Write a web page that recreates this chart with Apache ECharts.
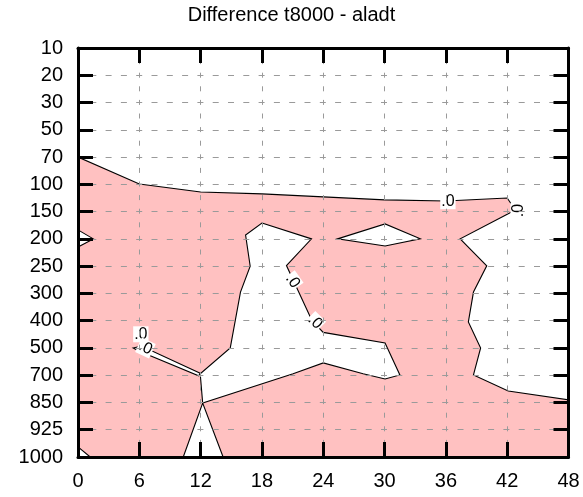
<!DOCTYPE html>
<html>
<head>
<meta charset="utf-8">
<script src="https://cdn.jsdelivr.net/npm/echarts@6/dist/echarts.min.js"></script>
<style>html,body{margin:0;padding:0;background:#fff}#c{width:583px;height:497px}</style>
</head>
<body>
<div id="c"></div>
<script>
// ---- data (x = forecast hour, y = pressure-level index) ----
const levels = ['10','20','30','50','70','100','150','200','250','300','400','500','700','850','925','1000'];
const hourTicks = [0, 6, 12, 18, 24, 30, 36, 42, 48];

// negative-difference area (whole domain, white areas drawn on top)
const negativeArea = [[0,0],[48,0],[48,15],[0,15]];
// zero-contour enclosed positive areas
const upperRightArea = [[0,0],[48,0],[48,12.9],[42.1,12.58],[38.7,11.99],[39.4,11.0],[38.2,10.05],[38.7,8.95],[40.0,7.99],[37.4,7.0],[42.8,5.94],[42.0,5.5],[36.0,5.61],[30.0,5.57],[24.0,5.46],[18.0,5.35],[12.0,5.28],[6.0,4.99],[0,4.0]];
const centralArea = [[18.0,6.42],[22.85,7.0],[20.4,7.98],[22.9,10.0],[24.0,10.43],[30.05,10.82],[31.5,11.99],[30.05,12.14],[27.9,11.95],[24.0,11.55],[21.05,11.95],[12.2,13.02],[11.96,11.95],[14.9,11.0],[15.9,8.95],[16.85,8.0],[16.4,6.86]];
const diamondArea = [[25.4,7.0],[30.05,6.45],[33.5,7.0],[30.05,7.26]];
const leftEdgeArea = [[0,6.67],[1.5,7.0],[0,7.3]];
const cornerArea = [[0,14.63],[1.2,15],[0,15]];
const bottomArea = [[10.3,15],[12.2,13.02],[14.2,15]];
const sliverArea = [[5.4,11.0],[6.2,10.93],[11.96,11.93],[11.8,12.02],[5.9,11.1]];
// contour label anchors
const labelPoints = [[36.2,5.62],[43.1,5.96],[21.0,8.55],[23.2,10.05],[6.15,10.5],[6.6,11.0]];
const labelText = '.0';

// ---- styles ----
const PINK = '#ffc1c1';
const FONT = '"Liberation Sans", Arial, Helvetica, sans-serif';
const labelRotations = [0, 90, -55, -45, 0, -25];
const regions = [
  {pts: negativeArea, fill: PINK, stroke: null},
  {pts: upperRightArea, fill: '#fff', stroke: '#000'},
  {pts: centralArea, fill: '#fff', stroke: '#000'},
  {pts: diamondArea, fill: '#fff', stroke: '#000'},
  {pts: leftEdgeArea, fill: '#fff', stroke: '#000'},
  {pts: cornerArea, fill: '#fff', stroke: '#000'},
  {pts: bottomArea, fill: '#fff', stroke: '#000'},
  {pts: sliverArea, fill: '#fff', stroke: '#000'}
];

const chart = echarts.init(document.getElementById('c'), null, {renderer: 'canvas'});

const frameLine = {show: true, onZero: false, lineStyle: {color: '#000', width: 3}};
const tick = {show: true, inside: true, length: 15, lineStyle: {color: '#000', width: 3}};

chart.setOption({
  animation: false,
  backgroundColor: '#fff',
  title: {
    text: 'Difference t8000 - aladt', left: 'center', top: 5, padding: 0,
    textStyle: {fontFamily: FONT, fontSize: 20, fontWeight: 'normal', color: '#000'}
  },
  grid: {left: 78, right: 14.5, top: 48, bottom: 40},
  xAxis: [
    {type: 'value', position: 'bottom', min: hourTicks[0], max: hourTicks[hourTicks.length-1], interval: 6, z: 10,
     axisLine: frameLine, axisTick: tick,
     axisLabel: {fontFamily: FONT, fontSize: 20, color: '#000', margin: 14, formatter: v => String(v)},
     splitLine: {show: true, lineStyle: {color: '#9a9a9a', width: 1, type: [5, 8.6], dashOffset: 2.5}}},
    {type: 'value', position: 'top', min: hourTicks[0], max: hourTicks[hourTicks.length-1], interval: 6, z: 10,
     axisLine: frameLine, axisTick: tick, axisLabel: {show: false}, splitLine: {show: false}}
  ],
  yAxis: [
    {type: 'value', position: 'left', inverse: true, min: 0, max: levels.length - 1, interval: 1, z: 10,
     axisLine: frameLine, axisTick: tick,
     axisLabel: {fontFamily: FONT, fontSize: 20, color: '#000', margin: 15, formatter: v => levels[v]},
     splitLine: {show: true, lineStyle: {color: '#9a9a9a', width: 1, type: [6, 9.3], dashOffset: 3}}},
    {type: 'value', position: 'right', inverse: true, min: 0, max: levels.length - 1, interval: 1, z: 10,
     axisLine: frameLine, axisTick: tick, axisLabel: {show: false}, splitLine: {show: false}}
  ],
  series: [
    {
      type: 'custom', coordinateSystem: 'cartesian2d', xAxisIndex: 0, yAxisIndex: 0, silent: true, z: 1,
      data: regions.map((r, i) => [r.pts[0][0], r.pts[0][1], i]),
      renderItem: (params, api) => {
        const r = regions[params.dataIndex];
        return {
          type: 'polygon',
          shape: {points: r.pts.map(p => api.coord(p))},
          style: {fill: r.fill, stroke: r.stroke || 'none', lineWidth: r.stroke ? 1.1 : 0}
        };
      }
    },
    {
      type: 'custom', coordinateSystem: 'cartesian2d', xAxisIndex: 0, yAxisIndex: 0, silent: true, z: 3,
      data: labelPoints.map((p, i) => [p[0], p[1], i]),
      renderItem: (params, api) => {
        const c = api.coord([api.value(0), api.value(1)]);
        return {
          type: 'text', x: c[0], y: c[1],
          rotation: labelRotations[params.dataIndex] * Math.PI / 180,
          style: {text: labelText, fill: '#000', font: '16px ' + FONT, align: 'center', verticalAlign: 'middle',
                  backgroundColor: '#fff', padding: [0, 1]}
        };
      }
    }
  ]
});
</script>
</body>
</html>
